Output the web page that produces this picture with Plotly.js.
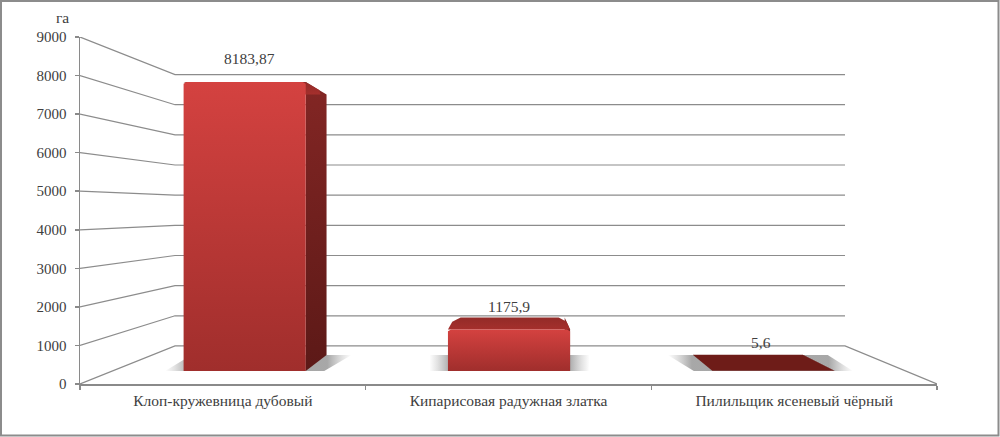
<!DOCTYPE html>
<html>
<head>
<meta charset="utf-8">
<script src="https://cdn.plot.ly/plotly-3.0.1.min.js"></script>
<style>html,body{margin:0;padding:0;background:#fff}#c{width:1000px;height:437px}</style>
</head>
<body>
<div id="c"></div>
<script>
// ---- data ----
const categories = ['Клоп-кружевница дубовый', 'Кипарисовая радужная златка', 'Пилильщик ясеневый чёрный'];
const values = [8183.87, 1175.9, 5.6];
const valueLabels = ['8183,87', '1175,9', '5,6'];
const yTicks = [0, 1000, 2000, 3000, 4000, 5000, 6000, 7000, 8000, 9000];
const unitLabel = 'га';

// ---- pseudo-3D projection in axis units ----
const W = 1000, H = 437, mL = 80, mR = 63, mT = 37, mB = 53;
const plotW = W - mL - mR, plotH = H - mT - mB;
const backU0 = 0.3326, backUScale = 670 / 857;      // back wall, x direction
const backV0 = 987, backVScale = (8026 - 987) / 9000; // back wall, y direction
function proj(u, v, d) {
  const ub = backU0 + u * backUScale, vb = backV0 + v * backVScale;
  return [u + (ub - u) * d, v + (vb - v) * d];
}
function poly(pts) {
  const p = pts.map(a => proj(a[0], a[1], a[2]));
  p.push(p[0]);
  return {x: p.map(a => a[0]), y: p.map(a => a[1])};
}
function face(pts, gradType, scale) {
  const g = poly(pts);
  return {type: 'scatter', mode: 'lines', x: g.x, y: g.y, fill: 'toself', line: {width: 0},
          fillgradient: {type: gradType, colorscale: scale}, hoverinfo: 'skip', showlegend: false};
}

const traces = [];
const gridColor = '#8c8c8c';
// wall grid lines
yTicks.forEach(v => {
  const a = proj(0, v, 0), b = proj(0, v, 1), c = proj(3, v, 1), e = proj(3, v, 0);
  const pts = v === 0 ? [a, b, c, e] : [a, b, c];
  traces.push({type: 'scatter', mode: 'lines', x: pts.map(p => p[0]), y: pts.map(p => p[1]),
               line: {color: gridColor, width: 1.2}, hoverinfo: 'skip', showlegend: false});
});

// bars
const halfW = 0.231, dF = 0.342, dB = 0.763, chamU = 0.012, chamV = 50, barScale = 0.99;
values.forEach((raw, i) => {
  const val = raw * barScale;
  const c = i + 0.5, l = c - halfW, r = c + halfW;
  // floor shadow
  const s = 0.07;
  traces.push(face([[l - s, 0, dF], [r + s, 0, dF], [r + s + 0.035, 0, dB], [l - s - 0.035, 0, dB]], 'horizontal',
    [[0, 'rgba(140,140,140,0)'], [0.05, 'rgba(140,140,140,0.25)'], [0.13, 'rgba(130,130,130,0.7)'],
     [0.87, 'rgba(130,130,130,0.7)'], [0.95, 'rgba(140,140,140,0.25)'], [1, 'rgba(140,140,140,0)']]));
  // right side
  traces.push(face([[r, 0, dF], [r, val, dF], [r, val, dB], [r, 0, dB]], 'vertical',
    [[0, '#5c1917'], [1, '#832624']]));
  // top
  const flat = val < 100;
  traces.push(face(flat
      ? [[l, val, dF], [r, val, dF], [r, val, dB], [l, val, dB]]
      : [[l, val, dF], [r, val, dF], [r, val, dB - 0.15], [r - 0.025, val, dB], [l + 0.025, val, dB], [l, val, dB - 0.15]], 'vertical',
    flat ? [[0, '#6e1c18'], [1, '#6e1c18']] : [[0, '#a52f2c'], [1, '#932b28']]));
  // front
  if (!flat) {
    traces.push(face([[l, 0, dF], [r, 0, dF], [r, val - chamV, dF], [r - chamU, val, dF], [l + chamU, val, dF], [l, val - chamV, dF]], 'vertical',
      [[0, '#a02e2c'], [1, '#d44240']]));
  }
});

// value labels, placed on the middle of each bar's depth
const labelLift = [27, 17, 20];
const labelShift = [-8, 0, 0];
const annotations = values.map((val, i) => {
  const p = proj(i + 0.5, val, 0.55);
  return {x: p[0], y: p[1], xref: 'x', yref: 'y', text: valueLabels[i], showarrow: false,
          xshift: labelShift[i], yshift: labelLift[i], font: {family: 'Liberation Serif', size: 15.5, color: '#404040'}};
});
annotations.push({xref: 'paper', yref: 'paper', x: -18 / plotW, y: 1 + 20 / plotH, xanchor: 'center', yanchor: 'middle',
                  text: unitLabel, showarrow: false, font: {family: 'Liberation Serif', size: 15.5, color: '#404040'}});

const layout = {
  width: W, height: H,
  margin: {l: mL, r: mR, t: mT, b: mB, pad: 0},
  paper_bgcolor: '#fff', plot_bgcolor: '#fff',
  showlegend: false,
  font: {family: 'Liberation Serif', size: 15, color: '#404040'},
  xaxis: {
    range: [0, 3], fixedrange: true, showgrid: false, zeroline: false,
    showline: true, linecolor: '#8a8a8a', linewidth: 1.5,
    tickmode: 'array', tickvals: categories.map((_, i) => i + 0.5), ticktext: categories,
    tickfont: {size: 15.5},
    ticks: '', ticklabelstandoff: 2,
    minor: {tickmode: 'array', tickvals: [0, 1, 2, 3], ticks: 'outside', ticklen: 4, tickcolor: '#8a8a8a', tickwidth: 1.5, showgrid: false}
  },
  yaxis: {
    range: [0, 9000], fixedrange: true, showgrid: false, zeroline: false,
    showline: true, linecolor: '#8a8a8a', linewidth: 1.5,
    tickmode: 'array', tickvals: yTicks, ticktext: yTicks.map(String),
    ticks: 'outside', ticklen: 4, tickcolor: '#8a8a8a', tickwidth: 1.5, ticklabelstandoff: 5
  },
  annotations: annotations,
  shapes: [{type: 'rect', xref: 'paper', yref: 'paper', layer: 'above',
    x0: (1 - mL) / plotW, x1: (998.5 - mL) / plotW,
    y0: 1 - (435.5 - mT) / plotH, y1: 1 - (1 - mT) / plotH,
    line: {color: '#8c8c8c', width: 2}, fillcolor: 'rgba(0,0,0,0)'}]
};
Plotly.newPlot('c', traces, layout, {displayModeBar: false, staticPlot: true});
</script>
</body>
</html>
